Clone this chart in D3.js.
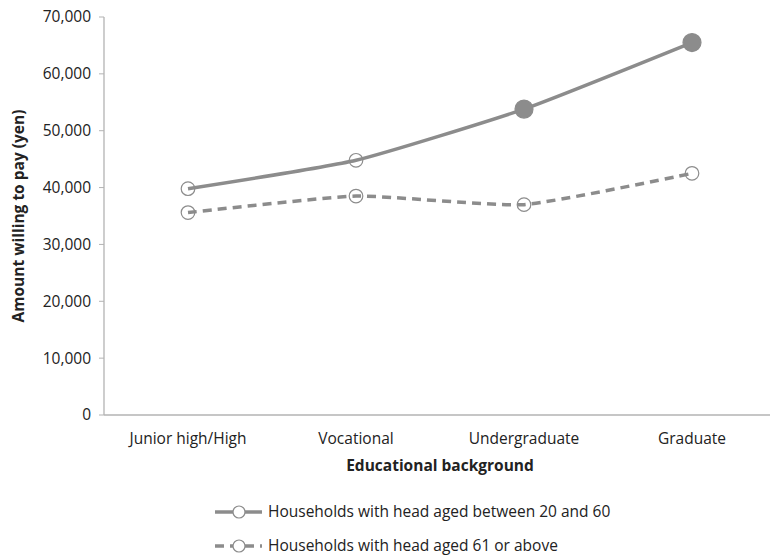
<!DOCTYPE html>
<html>
<head>
<meta charset="utf-8">
<script src="https://cdn.jsdelivr.net/npm/d3@7"></script>
<style>
  body { margin: 0; background: #fff; }
  text { font-family: "Open Sans", "Noto Sans", sans-serif; fill: #222; }
</style>
</head>
<body>
<div id="chart"></div>
<script>
const categories = ["Junior high/High", "Vocational", "Undergraduate", "Graduate"];
const youngValues = [39800, 44800, 53800, 65500];
const olderValues = [35600, 38500, 37000, 42500];
const youngFilled = [false, false, true, true];
const yTicks = [0, 10000, 20000, 30000, 40000, 50000, 60000, 70000];
const seriesNames = ["Households with head aged between 20 and 60", "Households with head aged 61 or above"];

const width = 770;
const height = 557;
const grey = "#8c8c8c";
const fontSize = "15.5px";

const svg = d3.select("#chart").append("svg")
  .attr("width", width)
  .attr("height", height);

const x = d3.scalePoint().domain(categories).range([188, 692]);
const y = d3.scaleLinear().domain([0, 70000]).range([415, 17]);

// y axis
svg.append("line")
  .attr("x1", 104).attr("x2", 104)
  .attr("y1", y(70000)).attr("y2", y(0))
  .attr("stroke", "#b3b3b3").attr("stroke-width", 1.3);
svg.selectAll(".ytick")
  .data(yTicks)
  .join("line")
  .attr("x1", 99).attr("x2", 104)
  .attr("y1", d => y(d)).attr("y2", d => y(d))
  .attr("stroke", "#b3b3b3");
svg.selectAll(".ylab")
  .data(yTicks)
  .join("text")
  .attr("x", 91)
  .attr("y", d => y(d))
  .attr("dy", "0.35em")
  .attr("text-anchor", "end")
  .style("font-size", fontSize)
  .text(d => d3.format(",")(d));

// x axis
svg.append("line")
  .attr("x1", 104).attr("x2", width)
  .attr("y1", y(0)).attr("y2", y(0))
  .attr("stroke", "#b3b3b3").attr("stroke-width", 1.3);
svg.selectAll(".xlab")
  .data(categories)
  .join("text")
  .attr("x", d => x(d))
  .attr("y", 439)
  .attr("dy", "0.35em")
  .attr("text-anchor", "middle")
  .style("font-size", fontSize)
  .text(d => d);

svg.append("text")
  .attr("x", 440).attr("y", 466)
  .attr("dy", "0.35em")
  .attr("text-anchor", "middle")
  .style("font-size", fontSize)
  .style("font-weight", "bold")
  .text("Educational background");

svg.append("text")
  .attr("transform", "translate(19,216) rotate(-90)")
  .attr("dy", "0.35em")
  .attr("text-anchor", "middle")
  .style("font-size", fontSize)
  .style("font-weight", "bold")
  .text("Amount willing to pay (yen)");

const line = d3.line()
  .x((d, i) => x(categories[i]))
  .y(d => y(d))
  .curve(d3.curveCardinal.tension(0.5));

svg.append("path")
  .attr("d", line(olderValues))
  .attr("fill", "none")
  .attr("stroke", grey)
  .attr("stroke-width", 3.5)
  .attr("stroke-dasharray", "9,6");

svg.append("path")
  .attr("d", line(youngValues))
  .attr("fill", "none")
  .attr("stroke", grey)
  .attr("stroke-width", 3.5);

svg.selectAll(".pOld")
  .data(olderValues)
  .join("circle")
  .attr("cx", (d, i) => x(categories[i]))
  .attr("cy", d => y(d))
  .attr("r", 6.8)
  .attr("fill", "none")
  .attr("stroke", grey)
  .attr("stroke-width", 1.2);

svg.selectAll(".pYoung")
  .data(youngValues)
  .join("circle")
  .attr("cx", (d, i) => x(categories[i]))
  .attr("cy", d => y(d))
  .attr("r", (d, i) => youngFilled[i] ? 9 : 6.8)
  .attr("fill", (d, i) => youngFilled[i] ? grey : "none")
  .attr("stroke", grey)
  .attr("stroke-width", 1.2);

// legend
const legend = svg.selectAll(".leg")
  .data(seriesNames)
  .join("g")
  .attr("transform", (d, i) => `translate(215,${512 + i * 34})`);
legend.append("line")
  .attr("x1", 0).attr("x2", 47)
  .attr("stroke", grey)
  .attr("stroke-width", 3.5)
  .attr("stroke-dasharray", (d, i) => i === 1 ? "9,6" : null);
legend.append("circle")
  .attr("cx", 24).attr("r", 6)
  .attr("fill", "#fff")
  .attr("stroke", grey)
  .attr("stroke-width", 1.2);
legend.append("text")
  .attr("x", 53)
  .attr("dy", "0.35em")
  .style("font-size", fontSize)
  .text(d => d);
</script>
</body>
</html>
